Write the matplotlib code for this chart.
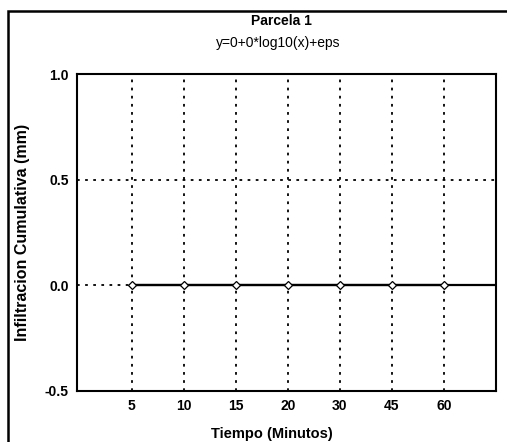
import matplotlib
matplotlib.use("Agg")
import matplotlib.pyplot as plt
import numpy as np
from matplotlib.patches import Rectangle

plt.rcParams['font.family'] = ['Liberation Sans', 'DejaVu Sans']

# Tiempo (minutos) and infiltracion acumulada (mm)
tiempo_labels = ["5", "10", "15", "20", "30", "45", "60"]
infiltracion = [0, 0, 0, 0, 0, 0, 0]
fit_a, fit_b = 0.0, 0.0  # y = a + b*log10(x)
y_ticks = [-0.5, 0.0, 0.5, 1.0]
y_tick_labels = ["-0.5", "0.0", "0.5", "1.0"]

W, H = 507, 442
fig = plt.figure(figsize=(W / 100, H / 100), dpi=100)

# outer frame of the panel
fig.patches.append(Rectangle((8 / W, -0.05), 1.2, 1 - 11 / H + 0.05,
                             transform=fig.transFigure, fill=False,
                             edgecolor="black", linewidth=1.8))

ax = fig.add_axes([77 / W, 1 - 391 / H, (496 - 77) / W, (391 - 74) / H])
ax.set_xlim(-0.05, 8.0)
ax.set_ylim(-0.5, 1.0)

positions = np.arange(1, len(tiempo_labels) + 1)

# fitted curve, carried on to the right edge of the axes
x_fit = np.array([positions[0], ax.get_xlim()[1]])
ax.plot(x_fit, fit_a + fit_b * np.log10(x_fit), color="black", linewidth=1.6, zorder=2)

ax.plot(positions, infiltracion, color="black", linewidth=1.6,
        marker="D", markersize=4.5, markerfacecolor="white",
        markeredgecolor="black", markeredgewidth=0.9, zorder=3)

ax.set_xticks(positions)
ax.set_xticklabels(tiempo_labels, fontsize=10, fontweight="bold")
ax.set_yticks(y_ticks)
ax.set_yticklabels(y_tick_labels, fontsize=10, fontweight="bold")
ax.tick_params(axis="both", length=0, pad=6)

for p in positions:
    ax.axvline(p, color="black", linestyle=(0, (1.5, 3.0)), linewidth=1.3, zorder=1)
for yv in [0.0, 0.5]:
    ax.axhline(yv, color="black", linestyle=(0, (1.5, 3.0)), linewidth=1.3, zorder=1)

for s in ax.spines.values():
    s.set_linewidth(1.5)

ax.set_xlabel("Tiempo (Minutos)", fontsize=10.5, fontweight="bold")
ax.xaxis.set_label_coords((272 - 77) / (496 - 77), -0.115)
ax.set_ylabel("Infiltracion Cumulativa (mm)", fontsize=11.5, fontweight="bold")
ax.yaxis.set_label_coords(-(77 - 30) / (496 - 77), 0.5)

fig.text(281 / W, 1 - 21 / H, "Parcela 1", ha="center", va="center",
         fontsize=10, fontweight="bold")
fig.text(278 / W, 1 - 43 / H, "y=0+0*log10(x)+eps", ha="center", va="center",
         fontsize=10)

fig.savefig("out.png", dpi=100)
